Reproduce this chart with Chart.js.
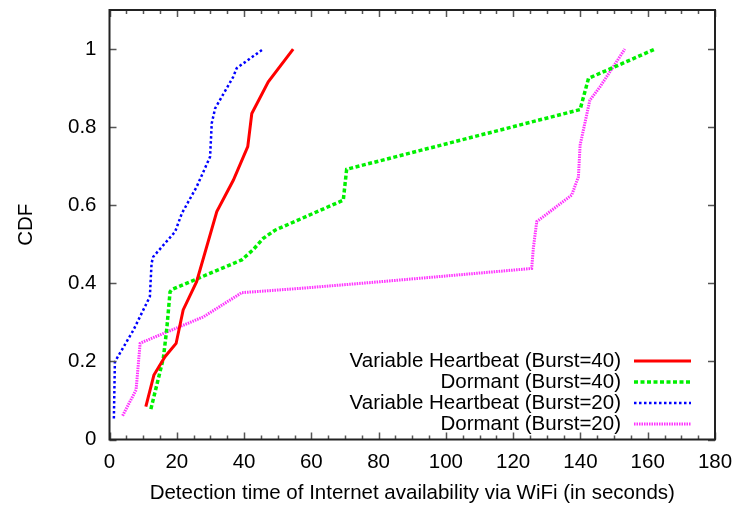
<!DOCTYPE html>
<html>
<head>
<meta charset="utf-8">
<script src="https://cdn.jsdelivr.net/npm/chart.js@4/dist/chart.umd.min.js"></script>
<style>
  html, body { margin: 0; padding: 0; background: #fff; }
  #wrap { width: 738px; height: 506px; }
</style>
</head>
<body>
<div id="wrap"><canvas id="myChart" width="738" height="506"></canvas></div>
<script>
// series names
const seriesNames = [
  "Variable Heartbeat (Burst=40)",
  "Dormant (Burst=40)",
  "Variable Heartbeat (Burst=20)",
  "Dormant (Burst=20)"
];

// detection time (s) / CDF pairs
const vh40X = [10.8, 13.2, 16.5, 19.8, 21.9, 25.9, 31.9, 36.8, 41.1, 42.3, 47.2, 54.6];
const vh40Y = [0.084, 0.165, 0.212, 0.246, 0.332, 0.404, 0.584, 0.664, 0.750, 0.835, 0.916, 1.0];

const dor40X = [12.3, 16.0, 17.0, 18.0, 18.5, 39.3, 42.7, 45.7, 49.2, 69.5, 70.5, 139.9, 142.4, 162.2];
const dor40Y = [0.078, 0.208, 0.281, 0.378, 0.384, 0.460, 0.486, 0.515, 0.536, 0.613, 0.692, 0.845, 0.925, 1.0];

const vh20X = [1.3, 1.6, 7.1, 12.0, 12.5, 13.0, 19.5, 21.5, 25.9, 29.9, 30.4, 31.4, 36.8, 37.8, 45.7];
const vh20Y = [0.054, 0.199, 0.280, 0.366, 0.451, 0.468, 0.532, 0.579, 0.647, 0.724, 0.810, 0.848, 0.929, 0.951, 1.0];

const dor20X = [3.9, 7.9, 9.1, 10.0, 27.9, 39.3, 56.6, 80.4, 125.5, 126.0, 127.0, 137.4, 139.4, 139.9, 142.8, 145.8, 153.2];
const dor20Y = [0.061, 0.127, 0.246, 0.250, 0.314, 0.376, 0.387, 0.404, 0.438, 0.490, 0.558, 0.626, 0.673, 0.754, 0.869, 0.903, 1.0];

// tick labels
const xTicks = [0, 20, 40, 60, 80, 100, 120, 140, 160, 180];
const yTicks = [0, 0.2, 0.4, 0.6, 0.8, 1];

function pts(xs, ys) {
  return xs.map((x, i) => ({ x: x, y: ys[i] }));
}

const FONT = "'Liberation Sans', Arial, sans-serif";
Chart.defaults.font.family = FONT;
Chart.defaults.font.size = 20.5;
Chart.defaults.color = "#000";

// gnuplot style frame, inward ticks and legend
const framePlugin = {
  id: "frame",
  afterDraw(chart) {
    const ctx = chart.ctx;
    const a = chart.chartArea;
    const xs = chart.scales.x, ys = chart.scales.y;
    ctx.save();
    ctx.strokeStyle = "#555";
    ctx.lineWidth = 1.5;
    ctx.beginPath();
    for (let v = 0; v <= 180; v += 5) {
      const px = Math.round(xs.getPixelForValue(v)) + 0.5;
      const len = v % 20 === 0 ? 7 : 4;
      ctx.moveTo(px, a.bottom); ctx.lineTo(px, a.bottom - len);
      ctx.moveTo(px, a.top); ctx.lineTo(px, a.top + len);
    }
    yTicks.forEach(v => {
      const py = Math.round(ys.getPixelForValue(v)) + 0.5;
      ctx.moveTo(a.left, py); ctx.lineTo(a.left + 7, py);
      ctx.moveTo(a.right, py); ctx.lineTo(a.right - 7, py);
    });
    ctx.stroke();
    ctx.strokeStyle = "#222";
    ctx.lineWidth = 2;
    ctx.strokeRect(a.left, a.top, a.right - a.left, a.bottom - a.top);

    // legend
    ctx.font = "20.5px " + FONT;
    ctx.textAlign = "right";
    ctx.textBaseline = "middle";
    ctx.fillStyle = "#000";
    chart.data.datasets.forEach((ds, i) => {
      const y = a.bottom - 78.5 + i * 21;
      ctx.fillText(ds.label, a.right - 94, y);
      ctx.save();
      ctx.strokeStyle = ds.borderColor;
      ctx.lineWidth = ds.borderWidth;
      ctx.setLineDash(ds.borderDash || []);
      ctx.beginPath();
      ctx.moveTo(a.right - 81, y);
      ctx.lineTo(a.right - 24, y);
      ctx.stroke();
      ctx.restore();
    });
    ctx.restore();
  }
};

const ctx = document.getElementById("myChart");

new Chart(ctx, {
  type: "scatter",
  data: {
    datasets: [
      { label: seriesNames[0], data: pts(vh40X, vh40Y), borderColor: "#ff0000", borderWidth: 3 },
      { label: seriesNames[1], data: pts(dor40X, dor40Y), borderColor: "#00f000", borderWidth: 3.5, borderDash: [4, 2.5] },
      { label: seriesNames[2], data: pts(vh20X, vh20Y), borderColor: "#0000ff", borderWidth: 2.5, borderDash: [2.5, 2.5] },
      { label: seriesNames[3], data: pts(dor20X, dor20Y), borderColor: "#ff33ff", borderWidth: 3, borderDash: [1.5, 1] }
    ].map(d => Object.assign(d, { showLine: true, pointRadius: 0, tension: 0, fill: false, borderCapStyle: "butt" }))
  },
  options: {
    responsive: false,
    animation: false,
    layout: { padding: { top: 10, right: 23, left: 0, bottom: 0 } },
    plugins: { legend: { display: false }, tooltip: { enabled: false } },
    scales: {
      x: {
        type: "linear",
        min: 0, max: 180,
        afterBuildTicks: s => { s.ticks = xTicks.map(v => ({ value: v })); },
        afterFit: s => { s.height = 66.5; s.paddingLeft = 0; s.paddingRight = 0; },
        grid: { display: false, drawTicks: false },
        border: { display: false },
        ticks: { padding: 11, maxRotation: 0, callback: v => String(v) },
        title: { display: true, text: "Detection time of Internet availability via WiFi (in seconds)", padding: { top: 0, bottom: 0 } }
      },
      y: {
        type: "linear",
        min: 0, max: 1.1,
        afterBuildTicks: s => { s.ticks = yTicks.map(v => ({ value: v })); },
        afterFit: s => { s.width = 109.5; s.paddingTop = 0; s.paddingBottom = 0; },
        grid: { display: false, drawTicks: false },
        border: { display: false },
        ticks: { padding: 13, callback: v => String(+v.toFixed(1)) },
        title: { display: true, text: "CDF", padding: { top: 14, bottom: 0 } }
      }
    }
  },
  plugins: [framePlugin]
});
</script>
</body>
</html>
